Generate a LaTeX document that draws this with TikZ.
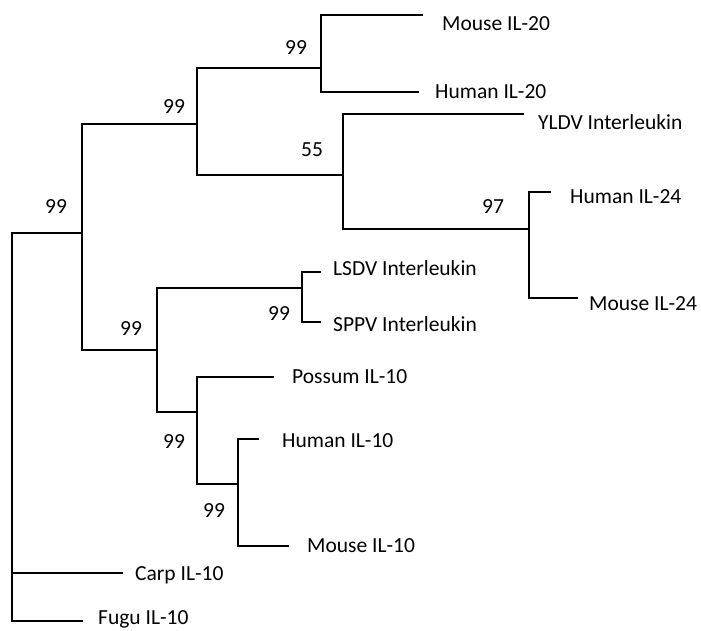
\documentclass[tikz,border=0pt]{standalone}
\usepackage{fontspec}
\setmainfont{Carlito}
\begin{document}
\begin{tikzpicture}[x=1pt,y=-1pt,
  branch/.style={line width=2pt,line cap=rect},
  taxon/.style={anchor=base west,inner sep=0pt,font=\fontsize{21.5}{25}\selectfont},
  boot/.style={anchor=base west,inner sep=0pt,font=\fontsize{21.5}{25}\selectfont}]
\useasboundingbox (0,0) rectangle (701,630);
% internal nodes
\coordinate (R) at (12,233);
\coordinate (A) at (82,233);
\coordinate (B) at (197,124);
\coordinate (P) at (321,68);
\coordinate (C) at (343,175);
\coordinate (D) at (529,229);
\coordinate (E) at (157,350);
\coordinate (F) at (302,288);
\coordinate (G) at (197,412);
\coordinate (H) at (238,484);
% leaf tips
\coordinate (tM20) at (422,15);
\coordinate (tH20) at (418,92);
\coordinate (tYLDV) at (523,114);
\coordinate (tH24) at (550,192);
\coordinate (tM24) at (577,298);
\coordinate (tLSDV) at (320,272);
\coordinate (tSPPV) at (320,322);
\coordinate (tPos) at (273,377);
\coordinate (tH10) at (258,439);
\coordinate (tM10) at (288,546);
\coordinate (tCarp) at (122,573);
\coordinate (tFugu) at (82,621);
% branches
\draw[branch] (R) |- (A);
\draw[branch] (R) |- (tCarp);
\draw[branch] (R) |- (tFugu);
\draw[branch] (A) |- (B);
\draw[branch] (A) |- (E);
\draw[branch] (B) |- (P);
\draw[branch] (B) |- (C);
\draw[branch] (P) |- (tM20);
\draw[branch] (P) |- (tH20);
\draw[branch] (C) |- (tYLDV);
\draw[branch] (C) |- (D);
\draw[branch] (D) |- (tH24);
\draw[branch] (D) |- (tM24);
\draw[branch] (E) |- (F);
\draw[branch] (E) |- (G);
\draw[branch] (F) |- (tLSDV);
\draw[branch] (F) |- (tSPPV);
\draw[branch] (G) |- (tPos);
\draw[branch] (G) |- (H);
\draw[branch] (H) |- (tH10);
\draw[branch] (H) |- (tM10);
% taxon labels
\node[taxon] (lM20) at (442,30.5) {Mouse IL-20};
\node[taxon] (lH20) at (435,98.5) {Human IL-20};
\node[taxon] (lYLDV) at (538,129) {YLDV Interleukin};
\node[taxon] (lH24) at (570,203) {Human IL-24};
\node[taxon] (lM24) at (589,310) {Mouse IL-24};
\node[taxon] (lLSDV) at (333,275) {LSDV Interleukin};
\node[taxon] (lSPPV) at (333,331) {SPPV Interleukin};
\node[taxon] (lPos) at (292,383) {Possum IL-10};
\node[taxon] (lH10) at (282,447) {Human IL-10};
\node[taxon] (lM10) at (307,552) {Mouse IL-10};
\node[taxon] (lCarp) at (135,580) {Carp IL-10};
\node[taxon] (lFugu) at (98,624) {Fugu IL-10};
% bootstrap values
\node[boot] (bP) at (285,54) {99};
\node[boot] (bB) at (163,113) {99};
\node[boot] (bA) at (45,213) {99};
\node[boot] (bC) at (301,156) {55};
\node[boot] (bD) at (482,213) {97};
\node[boot] (bF) at (268,320) {99};
\node[boot] (bE) at (120,335) {99};
\node[boot] (bG) at (163,448) {99};
\node[boot] (bH) at (203,517) {99};
\end{tikzpicture}
\end{document}
